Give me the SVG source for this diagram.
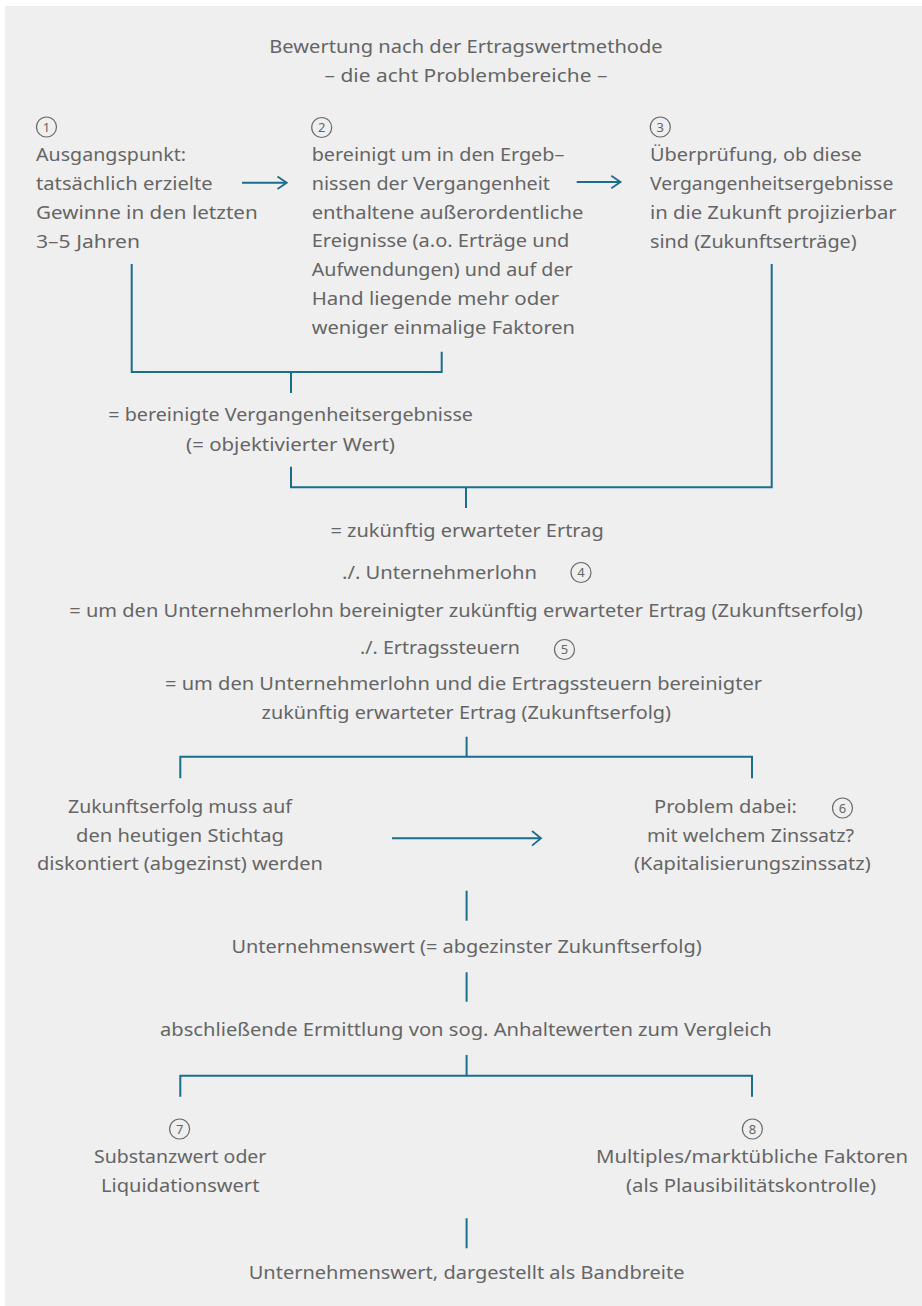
<svg xmlns="http://www.w3.org/2000/svg" width="922" height="1306" viewBox="0 0 922 1306">
<style>
text{font-family:"Noto Sans","Open Sans","DejaVu Sans",sans-serif;font-size:18.5px;fill:#656565}
.n{font-size:13px;text-anchor:middle}
.c{fill:none;stroke:#6a6a6a;stroke-width:1.2}
.l{fill:none;stroke:#1b6d8c;stroke-width:2}
.a{fill:none;stroke:#1b6d8c;stroke-width:1.8;stroke-linejoin:miter}
</style>
<rect x="5" y="6" width="917" height="1300" fill="#efefef"/>
<g id="title">
<text x="269.3" y="52.5" textLength="393.4" lengthAdjust="spacingAndGlyphs">Bewertung nach der Ertragswertmethode</text>
<text x="324.6" y="81.7" textLength="282.8" lengthAdjust="spacingAndGlyphs">– die acht Problembereiche –</text>
</g>
<g id="node1">
<circle class="c" cx="46.5" cy="127" r="10"/><text class="n" x="46.5" y="131.5">1</text>
<text x="36" y="161" textLength="150" lengthAdjust="spacingAndGlyphs">Ausgangspunkt:</text>
<text x="36" y="190" textLength="176.7" lengthAdjust="spacingAndGlyphs">tatsächlich erzielte</text>
<text x="36" y="219" textLength="221.7" lengthAdjust="spacingAndGlyphs">Gewinne in den letzten</text>
<text x="36" y="248" textLength="104" lengthAdjust="spacingAndGlyphs">3–5 Jahren</text>
</g>
<g id="node2">
<circle class="c" cx="321.7" cy="127.5" r="10"/><text class="n" x="321.7" y="132">2</text>
<text x="311.7" y="160.7" textLength="252.6" lengthAdjust="spacingAndGlyphs">bereinigt um in den Ergeb–</text>
<text x="311.7" y="189.6" textLength="238.3" lengthAdjust="spacingAndGlyphs">nissen der Vergangenheit</text>
<text x="311.7" y="218.5" textLength="271.6" lengthAdjust="spacingAndGlyphs">enthaltene außerordentliche</text>
<text x="311.7" y="247.4" textLength="257.6" lengthAdjust="spacingAndGlyphs">Ereignisse (a.o. Erträge und</text>
<text x="311.7" y="276.3" textLength="261" lengthAdjust="spacingAndGlyphs">Aufwendungen) und auf der</text>
<text x="311.7" y="305.2" textLength="247.6" lengthAdjust="spacingAndGlyphs">Hand liegende mehr oder</text>
<text x="311.7" y="334.1" textLength="263.3" lengthAdjust="spacingAndGlyphs">weniger einmalige Faktoren</text>
</g>
<g id="node3">
<circle class="c" cx="660.3" cy="127" r="10"/><text class="n" x="660.3" y="131.5">3</text>
<text x="650" y="161" textLength="211.7" lengthAdjust="spacingAndGlyphs">Überprüfung, ob diese</text>
<text x="650" y="190" textLength="243.3" lengthAdjust="spacingAndGlyphs">Vergangenheitsergebnisse</text>
<text x="650" y="219" textLength="246.7" lengthAdjust="spacingAndGlyphs">in die Zukunft projizierbar</text>
<text x="650" y="248" textLength="206.7" lengthAdjust="spacingAndGlyphs">sind (Zukunftserträge)</text>
</g>
<g id="node-bereinigt">
<text x="108.3" y="421" textLength="364.7" lengthAdjust="spacingAndGlyphs">= bereinigte Vergangenheitsergebnisse</text>
<text x="186" y="450.5" textLength="209" lengthAdjust="spacingAndGlyphs">(= objektivierter Wert)</text>
</g>
<g id="node-ertrag">
<text x="330.5" y="537" textLength="273.2" lengthAdjust="spacingAndGlyphs">= zukünftig erwarteter Ertrag</text>
</g>
<g id="node4">
<text x="342" y="579" textLength="195" lengthAdjust="spacingAndGlyphs">./. Unternehmerlohn</text>
<circle class="c" cx="581" cy="572.5" r="10"/><text class="n" x="581" y="577">4</text>
</g>
<g id="node-zukunftserfolg1">
<text x="69.3" y="617.3" textLength="793.4" lengthAdjust="spacingAndGlyphs">= um den Unternehmerlohn bereinigter zukünftig erwarteter Ertrag (Zukunftserfolg)</text>
</g>
<g id="node5">
<text x="360" y="654" textLength="160" lengthAdjust="spacingAndGlyphs">./. Ertragssteuern</text>
<circle class="c" cx="564.5" cy="649.5" r="10"/><text class="n" x="564.5" y="654">5</text>
</g>
<g id="node-zukunftserfolg2">
<text x="165" y="690" textLength="597" lengthAdjust="spacingAndGlyphs">= um den Unternehmerlohn und die Ertragssteuern bereinigter</text>
<text x="261.6" y="718.5" textLength="409.4" lengthAdjust="spacingAndGlyphs">zukünftig erwarteter Ertrag (Zukunftserfolg)</text>
</g>
<g id="node-diskont">
<text x="68" y="813" textLength="224" lengthAdjust="spacingAndGlyphs">Zukunftserfolg muss auf</text>
<text x="76" y="841.7" textLength="208" lengthAdjust="spacingAndGlyphs">den heutigen Stichtag</text>
<text x="37" y="870" textLength="286" lengthAdjust="spacingAndGlyphs">diskontiert (abgezinst) werden</text>
</g>
<g id="node6">
<text x="654" y="813" textLength="143" lengthAdjust="spacingAndGlyphs">Problem dabei:</text>
<circle class="c" cx="842.5" cy="808" r="10"/><text class="n" x="842.5" y="812.5">6</text>
<text x="647" y="841.7" textLength="207" lengthAdjust="spacingAndGlyphs">mit welchem Zinssatz?</text>
<text x="634" y="870" textLength="236.7" lengthAdjust="spacingAndGlyphs">(Kapitalisierungszinssatz)</text>
</g>
<g id="node-unternehmenswert">
<text x="231.5" y="952.7" textLength="470.2" lengthAdjust="spacingAndGlyphs">Unternehmenswert (= abgezinster Zukunftserfolg)</text>
</g>
<g id="node-anhaltewerte">
<text x="160" y="1036" textLength="611.6" lengthAdjust="spacingAndGlyphs">abschließende Ermittlung von sog. Anhaltewerten zum Vergleich</text>
</g>
<g id="node7">
<circle class="c" cx="179.6" cy="1129" r="10"/><text class="n" x="179.6" y="1133.5">7</text>
<text x="94" y="1163.3" textLength="172.4" lengthAdjust="spacingAndGlyphs">Substanzwert oder</text>
<text x="101" y="1191.7" textLength="158.4" lengthAdjust="spacingAndGlyphs">Liquidationswert</text>
</g>
<g id="node8">
<circle class="c" cx="752.4" cy="1129" r="10"/><text class="n" x="752.4" y="1133.5">8</text>
<text x="596" y="1163.3" textLength="312" lengthAdjust="spacingAndGlyphs">Multiples/marktübliche Faktoren</text>
<text x="626" y="1191.7" textLength="250" lengthAdjust="spacingAndGlyphs">(als Plausibilitätskontrolle)</text>
</g>
<g id="node-bandbreite">
<text x="248.7" y="1279.3" textLength="435.8" lengthAdjust="spacingAndGlyphs">Unternehmenswert, dargestellt als Bandbreite</text>
</g>
<g id="connectors">
<path class="l" d="M242 182.7H286.5"/><path class="a" d="M277.5 176.5L286.7 182.7L277.5 188.9"/>
<path class="l" d="M576.7 182H620.3"/><path class="a" d="M611.3 175.8L620.5 182L611.3 188.2"/>
<path class="l" d="M392 838.3H540.5"/><path class="a" d="M532 831L541 838.3L532 845.6"/>
<path class="l" d="M131.7 264V372H441.7V351.7"/>
<path class="l" d="M291 372V393"/>
<path class="l" d="M291 466.7V487.3H771.7V264"/>
<path class="l" d="M466 487.3V508"/>
<path class="l" d="M466.6 736.7V756.7"/>
<path class="l" d="M180.3 778.3V756.7H752V778.3"/>
<path class="l" d="M466.6 890.7V920.7"/>
<path class="l" d="M466.6 972.3V1001.7"/>
<path class="l" d="M466.6 1055V1075.7"/>
<path class="l" d="M180.3 1096.7V1075.7H752V1096.7"/>
<path class="l" d="M466.6 1218.3V1248.3"/>
</g>
</svg>
